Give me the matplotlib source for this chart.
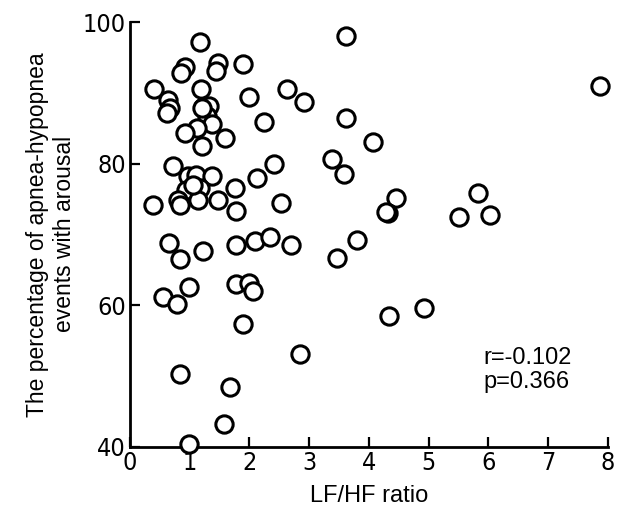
import matplotlib
matplotlib.use("Agg")
import matplotlib.pyplot as plt
from matplotlib import font_manager

lf_hf = [1.18, 0.92, 0.86, 1.48, 1.44, 1.90, 3.62, 0.40, 1.19, 2.00, 2.62, 2.92,
         0.64, 0.67, 0.62, 1.23, 1.33, 1.29, 1.38, 1.12, 0.92, 1.21, 1.59, 2.24,
         3.62, 4.07, 7.87, 0.72, 0.97, 1.10, 1.38, 0.93, 1.17, 1.14, 0.81, 0.84,
         0.39, 1.48, 1.76, 1.78, 2.12, 2.41, 2.53, 3.38, 3.58, 4.45, 4.32, 4.29,
         5.50, 5.83, 6.02, 0.65, 0.84, 1.23, 1.78, 2.09, 2.34, 2.70, 3.47, 3.80,
         0.56, 0.79, 0.99, 1.77, 2.00, 2.06, 1.89, 2.84, 0.84, 1.67, 1.57, 0.99,
         4.34, 4.92, 1.06, 1.20]
arousal = [97.2, 93.7, 92.8, 94.2, 93.1, 94.1, 98.0, 90.5, 90.5, 89.4, 90.6, 88.7,
           89.0, 87.9, 87.2, 88.0, 88.1, 86.8, 85.6, 85.0, 84.3, 82.5, 83.6, 85.9,
           86.4, 83.0, 90.9, 79.7, 78.2, 78.4, 78.2, 76.3, 76.5, 74.8, 74.9, 74.2,
           74.2, 74.8, 76.5, 73.3, 78.0, 79.9, 74.4, 80.6, 78.6, 75.1, 73.0, 73.2,
           72.5, 75.9, 72.7, 68.8, 66.5, 67.6, 68.5, 69.1, 69.6, 68.5, 66.7, 69.2,
           61.1, 60.1, 62.6, 63.0, 63.2, 62.0, 57.4, 53.1, 50.3, 48.5, 43.2, 40.4,
           58.4, 59.6, 77.0, 87.8]

x_ticks = [0, 1, 2, 3, 4, 5, 6, 7, 8]
y_ticks = [40, 60, 80, 100]
x_label = "LF/HF ratio"
y_label = "The percentage of apnea-hypopnea\nevents with arousal"
stats_text = "r=-0.102\np=0.366"

# choose a narrow font for tick labels if one is installed
tick_family = ["Liberation Sans", "DejaVu Sans"]
tick_stretch = "normal"
fonts = font_manager.fontManager.ttflist
names = {f.name for f in fonts}
if "Liberation Sans Narrow" in names:
    tick_family = ["Liberation Sans Narrow", "DejaVu Sans"]
else:
    for f in fonts:
        if f.name in ("DejaVu Sans", "Noto Sans", "Open Sans", "Roboto") and \
                str(f.stretch) in ("condensed", "semi-condensed", "extra-condensed") and \
                f.style == "normal" and f.weight in (400, "normal", "regular"):
            tick_family = [f.name, "DejaVu Sans"]
            tick_stretch = f.stretch
            break
label_font = ["Liberation Sans", "DejaVu Sans"]

fig = plt.figure(figsize=(6.28, 5.14), dpi=100)
ax = fig.add_axes([0.207, 0.131, 0.761, 0.826])

ax.scatter(lf_hf, arousal, s=155, facecolors="white", edgecolors="black",
           linewidths=2.2, clip_on=False, zorder=3)

ax.set_xlim(0, 8)
ax.set_ylim(40, 100)
ax.set_xticks(x_ticks)
ax.set_yticks(y_ticks)
for s in ["top", "right"]:
    ax.spines[s].set_visible(False)
for s in ["left", "bottom"]:
    ax.spines[s].set_linewidth(2.0)
ax.tick_params(direction="in", length=7, width=1.6, pad=3)
for lab in ax.get_xticklabels() + ax.get_yticklabels():
    lab.set_family(tick_family)
    lab.set_stretch(tick_stretch)
    lab.set_fontsize(18)

ax.set_xlabel(x_label, family=label_font, fontsize=17, labelpad=7)
ax.set_ylabel(y_label, family=label_font, fontsize=16.5, labelpad=5, linespacing=1.2)
ax.text(0.74, 0.235, stats_text, transform=ax.transAxes, family=label_font,
        fontsize=17, va="top", ha="left", linespacing=1.1)

fig.savefig("out.png", dpi=100)
